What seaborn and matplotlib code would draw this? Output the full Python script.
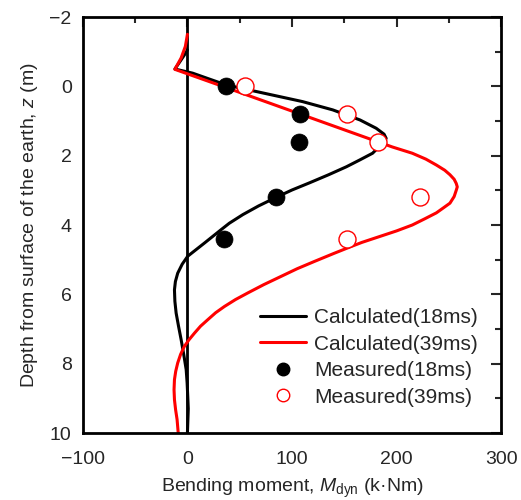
import numpy as np
import pandas as pd
import matplotlib
matplotlib.use("Agg")
import matplotlib.pyplot as plt
import seaborn as sns
from matplotlib.ticker import MultipleLocator
from matplotlib.lines import Line2D

# Calculated 18 ms (moment, depth)
calc18_m = [0, -3, -7, -12, 5, 20, 37, 73.5, 110, 139, 165, 180.5, 188, 190, 188, 182, 177, 165, 152, 135,
            117, 100, 85, 68, 53, 40, 32, 16.3, 0.3, -5, -9.3, -11.5, -12.4, -12, -10.8, -8.5, -6, -3.5, -1.2, -0.3, 0.3, 0.8, 0]
calc18_z = [-1.05, -0.9, -0.72, -0.5, -0.38, -0.22, -0.04, 0.2, 0.44, 0.68, 0.97, 1.21, 1.38, 1.5, 1.62, 1.78, 1.93, 2.12, 2.32, 2.55,
            2.78, 2.99, 3.2, 3.45, 3.7, 3.95, 4.14, 4.52, 4.9, 5.13, 5.39, 5.63, 5.87, 6.2, 6.54, 6.92, 7.31, 7.74, 8.17, 8.55, 8.94, 9.3, 10.0]

# Calculated 39 ms
calc39_m = [0, -2, -6, -12, 43, 182, 196, 215, 228, 238, 246, 251, 255, 257, 258, 257, 255, 251, 245, 238, 227, 215, 200, 184, 167,
            156.6, 140, 121.5, 105, 89.7, 73, 57.7, 46, 35.4, 27, 19.5, 12.5, 6.7, 1.5, -2.9, -6.5, -9.3, -11.2, -12.4, -12.8, -12.4,
            -11.3, -9.9, -8.8]
calc39_z = [-1.5, -1.15, -0.82, -0.49, 0.1, 1.6, 1.75, 1.93, 2.1, 2.27, 2.42, 2.55, 2.68, 2.8, 2.9, 3.0, 3.18, 3.37, 3.5, 3.65, 3.82, 4.0, 4.17, 4.33, 4.5,
            4.62, 4.82, 5.05, 5.26, 5.48, 5.72, 5.96, 6.15, 6.35, 6.53, 6.73, 6.92, 7.12, 7.31, 7.5, 7.73, 7.98, 8.22, 8.46, 8.75, 9.04,
            9.33, 9.61, 10.0]

# Measured
meas_z = [0.0, 0.8, 1.6, 3.2, 4.4]
meas18_m = [37, 108, 107, 85, 35]
meas39_m = [55, 153, 182, 222, 153]

sns.set_style("white")
plt.rcParams['font.family'] = ['Liberation Sans', 'Noto Sans CJK JP', 'DejaVu Sans']
plt.rcParams['mathtext.fontset'] = 'custom'
plt.rcParams['mathtext.it'] = 'Liberation Sans:italic'
plt.rcParams['mathtext.rm'] = 'Liberation Sans'

fig = plt.figure(figsize=(5.21, 5.0), dpi=100)
ax = fig.add_axes([0.159, 0.134, 0.803, 0.832])

ax.axvline(0, color='black', lw=2.0, zorder=1)

df18 = pd.DataFrame({'m': calc18_m, 'z': calc18_z})
df39 = pd.DataFrame({'m': calc39_m, 'z': calc39_z})
sns.lineplot(data=df18, x='m', y='z', sort=False, estimator=None, color='black', lw=2.2, ax=ax, zorder=2)
sns.lineplot(data=df39, x='m', y='z', sort=False, estimator=None, color='#ff0000', lw=2.2, ax=ax, zorder=2)

sns.scatterplot(x=meas18_m, y=meas_z, color='black', s=150, edgecolor='black', linewidth=0.5, ax=ax, zorder=3)
sns.scatterplot(x=meas39_m, y=meas_z, facecolor='white', edgecolor='#ff0000', s=150, linewidth=1.0, ax=ax, zorder=3)

ax.set_xlim(-100, 300)
ax.set_ylim(10, -2)
ax.xaxis.set_major_locator(MultipleLocator(100))
ax.xaxis.set_minor_locator(MultipleLocator(50))
ax.yaxis.set_major_locator(MultipleLocator(2))
ax.yaxis.set_minor_locator(MultipleLocator(1))
ax.tick_params(which='both', direction='in', top=True, right=True, width=1.5, labelsize=14)
ax.tick_params(which='major', length=7)
ax.tick_params(which='minor', length=4)
ax.tick_params(axis='x', pad=13)
ax.tick_params(axis='y', pad=8)
for s in ax.spines.values():
    s.set_linewidth(2.0)
    s.set_color('black')

ax.set_xlabel("Bending moment, $M_{\\rm dyn}$ (k\u00b7Nm)", fontsize=14, labelpad=6)
ax.set_ylabel(r"Depth from surface of the earth, $z$ (m)", fontsize=14, labelpad=7)

handles = [
    Line2D([], [], color='black', lw=2.2),
    Line2D([], [], color='#ff0000', lw=2.2),
    Line2D([], [], color='black', marker='o', ls='none', markersize=9),
    Line2D([], [], color='#ff0000', marker='o', ls='none', markersize=9, markerfacecolor='white', markeredgewidth=1.0),
]
labels = ['Calculated(18ms)', 'Calculated(39ms)', 'Measured(18ms)', 'Measured(39ms)']
ax.legend(handles, labels, loc='upper left', bbox_to_anchor=(0.423, 0.30), frameon=False,
          borderpad=0, borderaxespad=0,
          fontsize=15, handlelength=2.2, handletextpad=0.4, labelspacing=0.36)

fig.savefig('out.png', dpi=100)
